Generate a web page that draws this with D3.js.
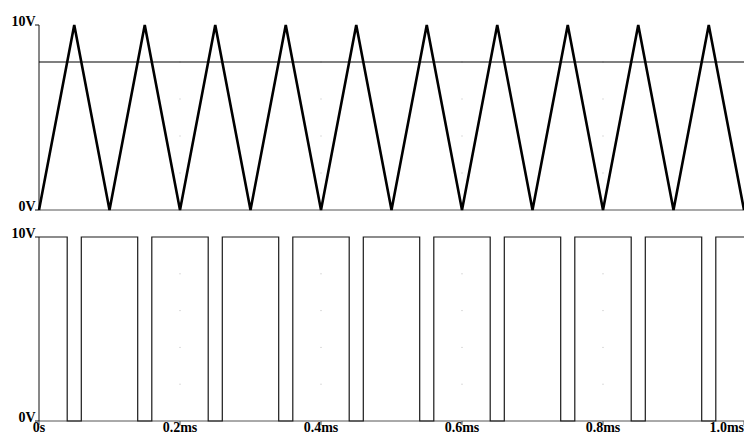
<!DOCTYPE html>
<html>
<head>
<meta charset="utf-8">
<script src="https://cdn.jsdelivr.net/npm/d3@7"></script>
<style>
  html, body { margin: 0; padding: 0; background: #fff; }
  svg { display: block; }
  text { font-family: "Liberation Serif", "Times New Roman", serif; font-weight: bold; font-size: 14px; fill: #000; }
</style>
</head>
<body>
<svg id="chart" width="744" height="435"></svg>
<script>
// Carrier: triangle wave, 0..10 V, period 0.1 ms
const triTime = [0, 0.05, 0.1, 0.15, 0.2, 0.25, 0.3, 0.35, 0.4, 0.45, 0.5,
                 0.55, 0.6, 0.65, 0.7, 0.75, 0.8, 0.85, 0.9, 0.95, 1.0];
const triVolt = [0, 10, 0, 10, 0, 10, 0, 10, 0, 10, 0,
                 10, 0, 10, 0, 10, 0, 10, 0, 10, 0];

// Reference level compared against the carrier
const refLevel = 8;

// Comparator output (held level after each switching instant)
const pwmTime = [0, 0.04, 0.06, 0.14, 0.16, 0.24, 0.26, 0.34, 0.36, 0.44, 0.46,
                 0.54, 0.56, 0.64, 0.66, 0.74, 0.76, 0.84, 0.86, 0.94, 0.96, 1.0];
const pwmVolt = [10, 0, 10, 0, 10, 0, 10, 0, 10, 0, 10,
                 0, 10, 0, 10, 0, 10, 0, 10, 0, 10, 10];

// Axis labels
const xTicks = [0, 0.2, 0.4, 0.6, 0.8, 1.0];
const xTickLabels = ["0s", "0.2ms", "0.4ms", "0.6ms", "0.8ms", "1.0ms"];
const yTicks = [0, 10];
const yTickLabels = ["0V", "10V"];
const gridX = [0.2, 0.4, 0.6, 0.8];
const gridY = [2, 4, 6, 8];

const svg = d3.select("#chart");
const x = d3.scaleLinear().domain([0, 1.0]).range([39, 744]);
const yTop = d3.scaleLinear().domain([0, 10]).range([210, 25]);
const yBot = d3.scaleLinear().domain([0, 10]).range([421, 237]);

function panel(y) {
  const g = svg.append("g");
  // faint grid dots
  gridX.forEach(gx => gridY.forEach(gy => {
    g.append("rect").attr("x", x(gx) - 0.5).attr("y", y(gy) - 0.5)
      .attr("width", 1).attr("height", 1).attr("fill", "#bbb");
  }));
  // axes
  g.append("line").attr("x1", x(0)).attr("x2", x(1.0)).attr("y1", y(0)).attr("y2", y(0))
    .attr("stroke", "#555").attr("stroke-width", 1);
  g.append("line").attr("x1", x(0)).attr("x2", x(0)).attr("y1", y(0)).attr("y2", y(10))
    .attr("stroke", "#111").attr("stroke-width", 1);
  yTicks.forEach((t, i) => {
    g.append("line").attr("x1", x(0) - 4).attr("x2", x(0)).attr("y1", y(t)).attr("y2", y(t))
      .attr("stroke", "#111");
    g.append("text").attr("x", x(0) - 3.5).attr("y", y(t) + 1)
      .attr("text-anchor", "end").text(yTickLabels[i]);
  });
  return g;
}

const topPanel = panel(yTop);
const botPanel = panel(yBot);

// reference level line
topPanel.append("line").attr("x1", x(0)).attr("x2", x(1.0))
  .attr("y1", yTop(refLevel)).attr("y2", yTop(refLevel))
  .attr("stroke", "#000").attr("stroke-width", 1.2);

// triangle carrier
topPanel.append("path")
  .datum(triTime.map((t, i) => [t, triVolt[i]]))
  .attr("fill", "none").attr("stroke", "#000").attr("stroke-width", 2.6)
  .attr("stroke-linejoin", "miter")
  .attr("d", d3.line().x(d => x(d[0])).y(d => yTop(d[1])));

// PWM output
botPanel.append("path")
  .datum(pwmTime.map((t, i) => [t, pwmVolt[i]]))
  .attr("fill", "none").attr("stroke", "#1a1a1a").attr("stroke-width", 1.2)
  .attr("d", d3.line().curve(d3.curveStepAfter).x(d => x(d[0])).y(d => yBot(d[1])));

// time axis ticks and labels
xTicks.forEach((t, i) => {
  botPanel.append("line").attr("x1", x(t)).attr("x2", x(t)).attr("y1", yBot(0)).attr("y2", yBot(0) + 4)
    .attr("stroke", "#555");
  const last = i === xTicks.length - 1;
  botPanel.append("text").attr("x", last ? 744 : x(t)).attr("y", 432)
    .attr("text-anchor", last ? "end" : "middle").text(xTickLabels[i]);
});
</script>
</body>
</html>
